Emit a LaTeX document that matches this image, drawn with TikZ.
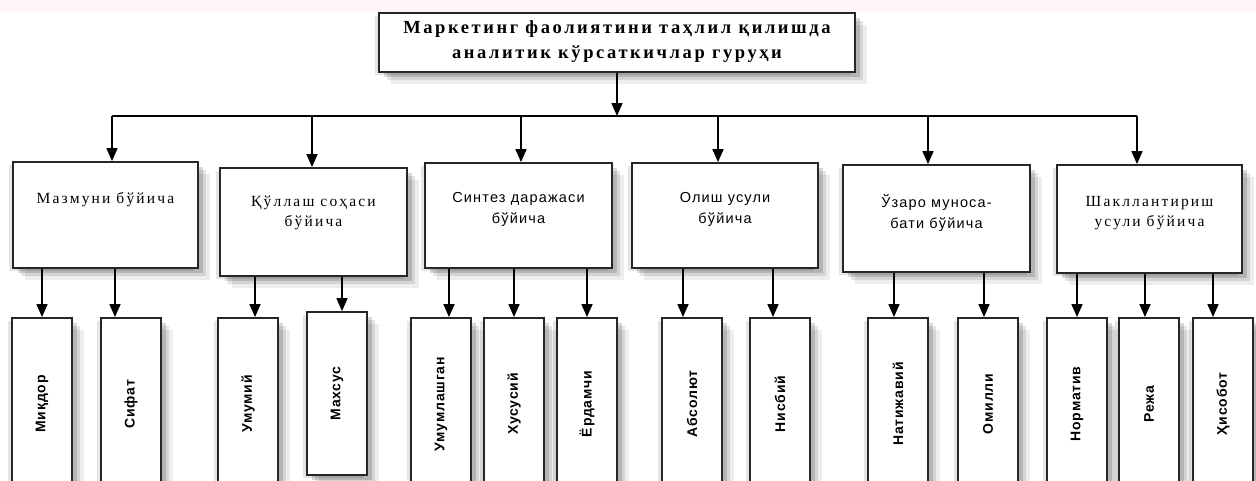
\documentclass[tikz,border=0pt]{standalone}
\usepackage{fontspec}
\setmainfont{Liberation Serif}
\newfontfamily\arialf{Liberation Sans}
\newfontfamily\arialfls[LetterSpace=6]{Liberation Sans}
\newfontfamily\timesls[LetterSpace=14]{Liberation Serif}
\newfontfamily\timesbls[LetterSpace=14]{Liberation Serif Bold}
\newfontfamily\arialls[LetterSpace=8]{Liberation Sans}
\newcommand\lft{\arialfls\bfseries\fontsize{14}{15}\selectfont}
\usetikzlibrary{shadows,arrows.meta,calc}
\begin{document}
\begin{tikzpicture}[x=1pt,y=-1pt,
  boxsh/.style={draw=black!85, line width=1.8pt, fill=white,
    general shadow={fill=black, opacity=0.07, shadow xshift=12pt, shadow yshift=-12pt},
    general shadow={fill=black, opacity=0.10, shadow xshift=8pt, shadow yshift=-8pt},
    general shadow={fill=black, opacity=0.15, shadow xshift=5pt, shadow yshift=-5pt},
    general shadow={fill=black, opacity=0.10, shadow xshift=-4pt, shadow yshift=-3pt}},
  cat/.style={boxsh, inner sep=0pt},
  leaf/.style={boxsh, minimum width=60pt, minimum height=172pt, inner sep=0pt},
  serif/.style={font=\timesls\fontsize{15.5}{20}\selectfont, align=center},
  sans/.style={font=\arialls\fontsize{14.5}{21}\selectfont, align=center},
  arr/.style={line width=1.6pt, -{Triangle[width=11pt,length=13pt]}},
  ln/.style={line width=1.6pt}]
\clip (0,0) rectangle (1256,480);
\fill[white] (0,0) rectangle (1256,480);
\fill[red!3] (0,0) rectangle (1256,12);
% title
\node[cat, minimum width=476pt, minimum height=59pt] (top) at (617,42.5) {};
\node[font=\timesbls\fontsize{18.5}{25}\selectfont, align=center] (toptxt) at (617,42) {Маркетинг фаолиятини таҳлил қилишда\\аналитик кўрсаткичлар гуруҳи};
% categories
\node[cat, minimum width=185pt, minimum height=106pt] (c1) at (105.5,215) {};
\node[cat, minimum width=187pt, minimum height=108pt] (c2) at (313.5,222) {};
\node[cat, minimum width=187pt, minimum height=105pt] (c3) at (518.5,215.5) {};
\node[cat, minimum width=186pt, minimum height=105pt] (c4) at (725,215.5) {};
\node[cat, minimum width=187pt, minimum height=107pt] (c5) at (936.5,218.5) {};
\node[cat, minimum width=185pt, minimum height=108pt] (c6) at (1149.5,219) {};
\node[serif] (t1) at (105.5,200) {Мазмуни бўйича};
\node[serif] (t2) at (313.5,213) {Қўллаш соҳаси\\бўйича};
\node[sans] (t3) at (518.5,209) {Синтез даражаси\\бўйича};
\node[sans] (t4) at (725,209) {Олиш усули\\бўйича};
\node[sans] (t5) at (936.5,213) {Ўзаро муноса-\\бати бўйича};
\node[serif] (t6) at (1149.5,213) {Шакллантириш\\усули бўйича};
% leaves
\foreach \n/\x/\t in {l1/42/Миқдор, l2/131/Сифат, l3/248/Умумий, l5/441/Умумлашган, l6/514/Хусусий, l7/587/Ёрдамчи, l8/692/Абсолют, l9/780/Нисбий, l10/898/Натижавий, l11/988/Омилли, l12/1077/Норматив, l13/1149/Режа, l14/1223/Ҳисобот}
  \node[leaf] (\n) at (\x,404) {\rotatebox{90}{\lft\t}};
\node[leaf, minimum height=163pt] (l4) at (337,393.5) {\rotatebox{90}{\lft Махсус}};
% bus
\coordinate (bus) at (617,116);
\draw[arr] (top.south) -- (top.south |- bus);
\draw[ln] ($(c1.north |- bus)+(6.5,0)$) -- ($(c6.north |- bus)+(-12.5,0)$);
\draw[arr] ($(c1.north |- bus)+(6.5,0)$) -- ($(c1.north)+(6.5,0)$);
\draw[arr] ($(c2.north |- bus)+(-1.5,0)$) -- ($(c2.north)+(-1.5,0)$);
\draw[arr] ($(c3.north |- bus)+(2.5,0)$) -- ($(c3.north)+(2.5,0)$);
\draw[arr] ($(c4.north |- bus)+(-7,0)$) -- ($(c4.north)+(-7,0)$);
\draw[arr] ($(c5.north |- bus)+(-8.5,0)$) -- ($(c5.north)+(-8.5,0)$);
\draw[arr] ($(c6.north |- bus)+(-12.5,0)$) -- ($(c6.north)+(-12.5,0)$);
% leaf arrows
\draw[arr] (c1.south -| l1.north) -- (l1.north);
\draw[arr] ($(c1.south -| l2.north)+(-16,0)$) -- ($(l2.north)+(-16,0)$);
\draw[arr] ($(c2.south -| l3.north)+(7,0)$) -- ($(l3.north)+(7,0)$);
\draw[arr] ($(c2.south -| l4.north)+(5,0)$) -- ($(l4.north)+(5,0)$);
\draw[arr] ($(c3.south -| l5.north)+(8,0)$) -- ($(l5.north)+(8,0)$);
\draw[arr] (c3.south -| l6.north) -- (l6.north);
\draw[arr] (c3.south -| l7.north) -- (l7.north);
\draw[arr] ($(c4.south -| l8.north)+(-9,0)$) -- ($(l8.north)+(-9,0)$);
\draw[arr] ($(c4.south -| l9.north)+(-7,0)$) -- ($(l9.north)+(-7,0)$);
\draw[arr] ($(c5.south -| l10.north)+(-4,0)$) -- ($(l10.north)+(-4,0)$);
\draw[arr] ($(c5.south -| l11.north)+(-4,0)$) -- ($(l11.north)+(-4,0)$);
\draw[arr] (c6.south -| l12.north) -- (l12.north);
\draw[arr] ($(c6.south -| l13.north)+(-4,0)$) -- ($(l13.north)+(-4,0)$);
\draw[arr] ($(c6.south -| l14.north)+(-10,0)$) -- ($(l14.north)+(-10,0)$);
\end{tikzpicture}
\end{document}
